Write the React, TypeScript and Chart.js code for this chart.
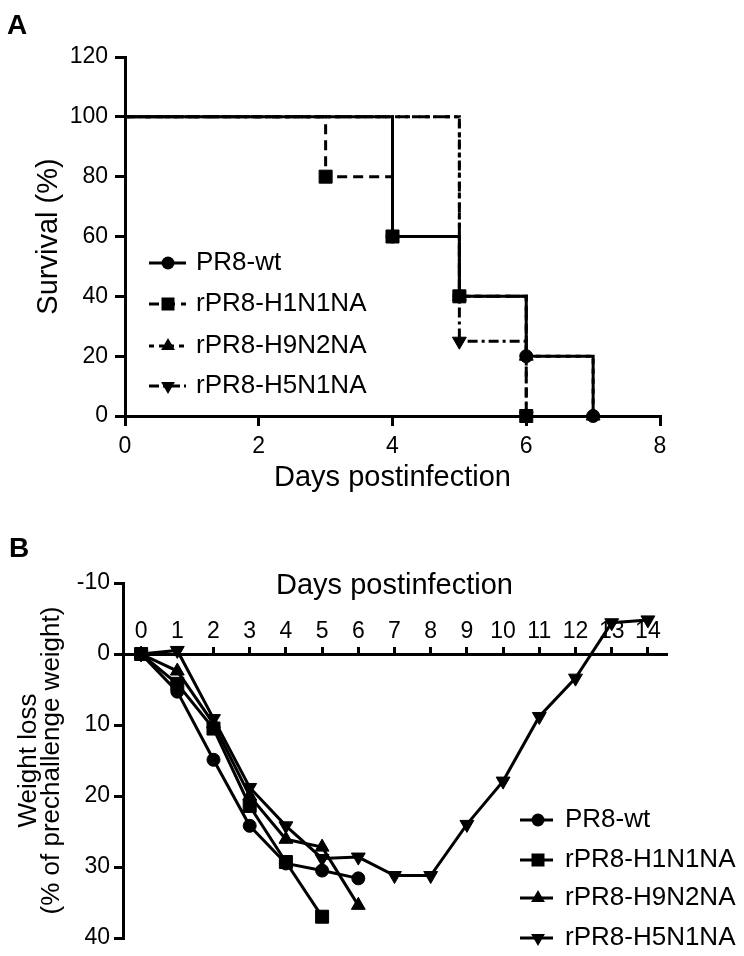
import React, { useEffect, useRef } from 'react';
import { Chart, registerables } from 'chart.js';

Chart.register(...registerables);

const FONT_FAMILY = "'Liberation Sans', Arial, Helvetica, sans-serif";

const seriesLabels = ['PR8-wt', 'rPR8-H1N1NA', 'rPR8-H9N2NA', 'rPR8-H5N1NA'];

// ---- Panel A: survival (%) vs days postinfection ----
const survDaysWt = [0, 4, 5, 6, 7];
const survWt = [100, 60, 40, 20, 0];
const survDaysH1N1 = [0, 3, 4, 5, 6];
const survH1N1 = [100, 80, 60, 40, 0];
const survDaysH9N2 = [0, 5, 6, 7];
const survH9N2 = [100, 40, 20, 0];
const survDaysH5N1 = [0, 5, 6];
const survH5N1 = [100, 25, 0];
const survXTicks = [0, 2, 4, 6, 8];
const survYTicks = [0, 20, 40, 60, 80, 100, 120];

// ---- Panel B: weight loss (% of prechallenge weight) vs days ----
const weightDays = [0, 1, 2, 3, 4, 5, 6, 7, 8, 9, 10, 11, 12, 13, 14];
const weightWt = [0, 5.3, 14.9, 24.2, 29.5, 30.5, 31.6];
const weightH1N1 = [0, 4.2, 10.5, 21.4, 29.3, 37.0];
const weightH9N2 = [0, 2.4, 9.8, 20.0, 26.1, 27.2, 35.4];
const weightH5N1 = [0, -0.5, 9.1, 18.8, 24.2, 28.8, 28.6, 31.2, 31.2, 24.0, 17.9, 8.8, 3.4, -4.4, -4.8];
const weightXTicks = [0, 1, 2, 3, 4, 5, 6, 7, 8, 9, 10, 11, 12, 13, 14];
const weightYTicks = [-10, 0, 10, 20, 30, 40];

// ---- styles ----
const markerStyles = ['circle', 'rect', 'triangle', 'triangle'];
const markerRotations = [0, 0, 0, 180];
const markerRadii = [6.5, 9.2, 8, 8];
const survDashes: number[][] = [[], [10, 6], [5, 5], [10, 4, 3, 4]];

function drawMarker(ctx: CanvasRenderingContext2D, style: string, x: number, y: number, r: number, rotDeg: number) {
  ctx.beginPath();
  if (style === 'circle') {
    ctx.arc(x, y, r, 0, Math.PI * 2);
  } else if (style === 'rect') {
    const s = r * Math.SQRT1_2;
    ctx.rect(x - s, y - s, 2 * s, 2 * s);
  } else {
    let rad = (rotDeg * Math.PI) / 180;
    ctx.moveTo(x + Math.sin(rad) * r, y - Math.cos(rad) * r);
    rad += (2 * Math.PI) / 3;
    ctx.lineTo(x + Math.sin(rad) * r, y - Math.cos(rad) * r);
    rad += (2 * Math.PI) / 3;
    ctx.lineTo(x + Math.sin(rad) * r, y - Math.cos(rad) * r);
    ctx.closePath();
  }
  ctx.fillStyle = '#000';
  ctx.fill();
}

const legendPlugin = {
  id: 'customLegend',
  afterDatasetsDraw(chart: any, _args: any, opts: any) {
    const ctx: CanvasRenderingContext2D = chart.ctx;
    chart.data.datasets.forEach((ds: any, i: number) => {
      const y = opts.ys[i];
      ctx.save();
      ctx.strokeStyle = '#000';
      ctx.lineWidth = 3;
      ctx.setLineDash(ds.borderDash || []);
      ctx.beginPath();
      ctx.moveTo(opts.x0, y);
      ctx.lineTo(opts.x1, y);
      ctx.stroke();
      ctx.setLineDash([]);
      drawMarker(ctx, ds.pointStyle, opts.mx, y, ds.legendRadius, ds.pointRotation || 0);
      ctx.fillStyle = '#000';
      ctx.font = `${opts.fontSize}px ${FONT_FAMILY}`;
      ctx.textBaseline = 'middle';
      ctx.textAlign = 'left';
      ctx.fillText(ds.label, opts.tx, y);
      ctx.restore();
    });
  },
};

const tickFont = { family: FONT_FAMILY, size: 23 };
const titleFont = { family: FONT_FAMILY, size: 29 };

function makeXY(xs: number[], ys: number[]) {
  return ys.map((v, i) => ({ x: xs[i], y: v }));
}

export default function App() {
  const refA = useRef<HTMLCanvasElement>(null);
  const refB = useRef<HTMLCanvasElement>(null);

  useEffect(() => {
    Chart.defaults.font.family = FONT_FAMILY;
    Chart.defaults.color = '#000';

    const survSets = [
      [survDaysWt, survWt],
      [survDaysH1N1, survH1N1],
      [survDaysH9N2, survH9N2],
      [survDaysH5N1, survH5N1],
    ];
    const chartA = new Chart(refA.current!, {
      type: 'line',
      data: {
        datasets: survSets.map(([xs, ys], i) => ({
          label: seriesLabels[i],
          data: makeXY(xs, ys),
          stepped: true,
          borderColor: '#000',
          borderWidth: 3,
          borderDash: survDashes[i],
          pointStyle: markerStyles[i],
          pointRotation: markerRotations[i],
          pointRadius: ys.map((_, j) => (j === 0 ? 0 : markerRadii[i])),
          pointBackgroundColor: '#000',
          pointBorderColor: '#000',
          pointBorderWidth: 1,
          legendRadius: markerRadii[i],
          clip: false,
          fill: false,
        })) as any,
      },
      options: {
        responsive: false,
        devicePixelRatio: 1,
        animation: false,
        layout: { padding: { left: 0, top: 57, right: 84, bottom: 0 } },
        plugins: {
          legend: { display: false },
          tooltip: { enabled: false },
          customLegend: { ys: [263, 304, 346, 386], x0: 149, x1: 186, mx: 168, tx: 196, fontSize: 26 },
        } as any,
        scales: {
          x: {
            type: 'linear',
            position: 'bottom',
            min: 0,
            max: 8,
            afterBuildTicks: (s: any) => { s.ticks = survXTicks.map((v) => ({ value: v })); },
            afterFit: (s: any) => { s.height = 84; },
            ticks: { font: tickFont, color: '#000', padding: 7, maxRotation: 0, autoSkip: false },
            grid: { drawOnChartArea: false, drawTicks: true, tickLength: 10, color: '#000', lineWidth: 3 },
            border: { display: true, color: '#000', width: 3 },
            title: { display: true, text: 'Days postinfection', font: titleFont, color: '#000', padding: { top: 0, bottom: 4.6 } },
          },
          y: {
            type: 'linear',
            position: 'left',
            min: 0,
            max: 120,
            afterBuildTicks: (s: any) => { s.ticks = survYTicks.map((v) => ({ value: v })); },
            afterFit: (s: any) => { s.width = 125; },
            ticks: { font: tickFont, color: '#000', padding: 7 },
            grid: { drawOnChartArea: false, drawTicks: true, tickLength: 10, color: '#000', lineWidth: 3 },
            border: { display: true, color: '#000', width: 3 },
            title: { display: true, text: 'Survival (%)', font: titleFont, color: '#000', padding: { top: 31.6, bottom: 0 } },
          },
        },
      } as any,
      plugins: [legendPlugin],
    });

    const weightSets = [weightWt, weightH1N1, weightH9N2, weightH5N1];
    const chartB = new Chart(refB.current!, {
      type: 'line',
      data: {
        datasets: weightSets.map((ys, i) => ({
          label: seriesLabels[i],
          data: makeXY(weightDays, ys),
          borderColor: '#000',
          borderWidth: 3,
          borderDash: [],
          pointStyle: markerStyles[i],
          pointRotation: markerRotations[i],
          pointRadius: markerRadii[i],
          pointBackgroundColor: '#000',
          pointBorderColor: '#000',
          pointBorderWidth: 1,
          legendRadius: markerRadii[i],
          clip: false,
          fill: false,
          tension: 0,
        })) as any,
      },
      options: {
        responsive: false,
        devicePixelRatio: 1,
        animation: false,
        layout: { padding: { left: 0, top: 83, right: 78, bottom: 18 } },
        plugins: {
          legend: { display: false },
          tooltip: { enabled: false },
          customLegend: { ys: [320, 360, 398, 438], x0: 520, x1: 553, mx: 538, tx: 565, fontSize: 26 },
        } as any,
        scales: {
          x: {
            type: 'linear',
            position: { y: 0 },
            min: -0.5,
            max: 14.5,
            afterBuildTicks: (s: any) => { s.ticks = weightXTicks.map((v) => ({ value: v })); },
            afterFit: (s: any) => { s.height = 0; },
            ticks: { font: tickFont, color: '#000', padding: -26.8, maxRotation: 0, minRotation: 0, autoSkip: false },
            grid: { drawOnChartArea: false, drawTicks: true, tickLength: -9, color: '#000', lineWidth: 3 },
            border: { display: true, color: '#000', width: 3 },
            title: { display: true, text: 'Days postinfection', font: titleFont, color: '#000', padding: { top: 0, bottom: 50.6 } },
          },
          y: {
            type: 'linear',
            position: 'left',
            min: -10,
            max: 40,
            reverse: true,
            afterBuildTicks: (s: any) => { s.ticks = weightYTicks.map((v) => ({ value: v })); },
            afterFit: (s: any) => { s.width = 123; },
            ticks: { font: tickFont, color: '#000', padding: 4 },
            grid: { drawOnChartArea: false, drawTicks: true, tickLength: 9, color: '#000', lineWidth: 3 },
            border: { display: true, color: '#000', width: 3 },
            title: {
              display: true,
              text: ['Weight loss', '(% of prechallenge weight)'],
              font: { family: FONT_FAMILY, size: 26, lineHeight: '23px' },
              color: '#000',
              padding: { top: 17.5, bottom: 0 },
            },
          },
        },
      } as any,
      plugins: [legendPlugin],
    });

    return () => {
      chartA.destroy();
      chartB.destroy();
    };
  }, []);

  return (
    <div style={{ position: 'absolute', left: 0, top: 0, width: 744, height: 956, background: '#fff', overflow: 'hidden' }}>
      <canvas ref={refA} width={744} height={500} style={{ position: 'absolute', left: 0, top: 0, display: 'block' }} />
      <canvas ref={refB} width={744} height={456} style={{ position: 'absolute', left: 0, top: 500, display: 'block' }} />
      <div style={{ position: 'absolute', left: 7, top: 11, font: `bold 28px ${FONT_FAMILY}`, lineHeight: '28px', color: '#000' }}>A</div>
      <div style={{ position: 'absolute', left: 9, top: 534, font: `bold 28px ${FONT_FAMILY}`, lineHeight: '28px', color: '#000' }}>B</div>
    </div>
  );
}
